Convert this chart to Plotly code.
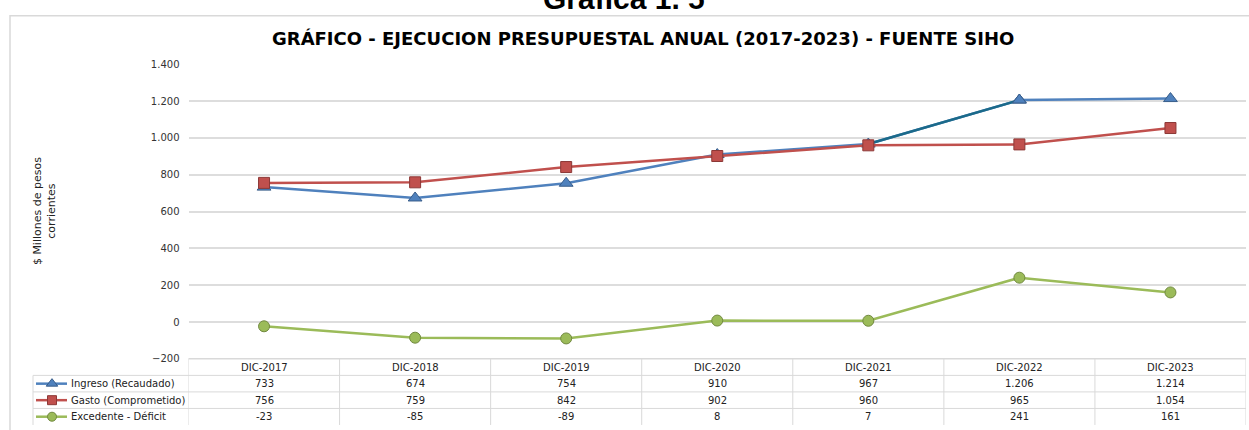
import plotly.graph_objects as go

# ---------------- data ----------------
categories = ["DIC-2017", "DIC-2018", "DIC-2019", "DIC-2020", "DIC-2021", "DIC-2022", "DIC-2023"]
ingreso = [733, 674, 754, 910, 967, 1206, 1214]
gasto = [756, 759, 842, 902, 960, 965, 1054]
excedente = [-23, -85, -89, 8, 7, 241, 161]
series_names = ["Ingreso (Recaudado)", "Gasto (Comprometido)", "Excedente - Déficit"]
y_ticks = [-200, 0, 200, 400, 600, 800, 1000, 1200, 1400]

W, H = 1249, 430
def px_x(p):
    return p / W
def px_y(p):
    return 1 - p / H

def fmt(v):
    return f"{v:,}".replace(",", ".")

FONT = "DejaVu Sans"
BLUE, BLUE_D = "#4F81BD", "#385D8A"
RED, RED_D = "#C0504D", "#8C3836"
GREEN, GREEN_D = "#9BBB59", "#71893F"
TEAL = "#1B6A8A"

series = [
    (series_names[0], ingreso, BLUE, BLUE_D, "triangle-up", 12),
    (series_names[1], gasto, RED, RED_D, "square", 11),
    (series_names[2], excedente, GREEN, GREEN_D, "circle", 11),
]

fig = go.Figure()

# main lines
fig.add_trace(go.Scatter(x=categories, y=ingreso, mode="lines+markers", name=series_names[0],
                         line=dict(color=BLUE, width=2.5),
                         marker=dict(symbol="triangle-up", size=12, color=BLUE, line=dict(color=BLUE_D, width=1)),
                         showlegend=False))
# darker highlighted segment 2021-2022 of Ingreso
fig.add_trace(go.Scatter(x=categories[4:6], y=ingreso[4:6], mode="lines",
                         line=dict(color=TEAL, width=2.5), showlegend=False, hoverinfo="skip"))
fig.add_trace(go.Scatter(x=categories[5:6], y=ingreso[5:6], mode="markers",
                         marker=dict(symbol="triangle-up", size=12, color=BLUE, line=dict(color=BLUE_D, width=1)),
                         showlegend=False, hoverinfo="skip"))
fig.add_trace(go.Scatter(x=categories, y=gasto, mode="lines+markers", name=series_names[1],
                         line=dict(color=RED, width=2.5),
                         marker=dict(symbol="square", size=11, color=RED, line=dict(color=RED_D, width=1)),
                         showlegend=False))
fig.add_trace(go.Scatter(x=categories, y=excedente, mode="lines+markers", name=series_names[2],
                         line=dict(color=GREEN, width=2.5),
                         marker=dict(symbol="circle", size=11, color=GREEN, line=dict(color=GREEN_D, width=1)),
                         showlegend=False))

# ---------------- data table below the plot ----------------
row_centers = [388.5, 405.5, 422.5]
row_lines = [380, 397, 414]
table_top = 363
table_bottom = 431
label_left = 33
plot_left = 188.5
plot_right = 1246

shapes = []
annotations = []

# header labels
for c in categories:
    annotations.append(dict(x=c, y=px_y(371.5), xref="x", yref="paper", text=c, showarrow=False,
                            font=dict(family=FONT, size=10, color="#222222"), xanchor="center", yanchor="middle"))
# values
for r, (name, vals, col, dcol, sym, sz) in enumerate(series):
    for c, v in zip(categories, vals):
        annotations.append(dict(x=c, y=px_y(row_centers[r]), xref="x", yref="paper", text=fmt(v), showarrow=False,
                                font=dict(family=FONT, size=10, color="#222222"), xanchor="center", yanchor="middle"))
    annotations.append(dict(x=px_x(69), y=px_y(row_centers[r]), xref="paper", yref="paper", text=name,
                            showarrow=False, font=dict(family=FONT, size=10, color="#222222"),
                            xanchor="left", yanchor="middle"))
    # legend key (line + marker) in overlay pixel axes
    fig.add_trace(go.Scatter(x=[36, 67], y=[row_centers[r], row_centers[r]], mode="lines",
                             line=dict(color=col, width=2.5), xaxis="x2", yaxis="y2",
                             showlegend=False, hoverinfo="skip"))
    fig.add_trace(go.Scatter(x=[52], y=[row_centers[r]], mode="markers",
                             marker=dict(symbol=sym, size=sz - 2, color=col, line=dict(color=dcol, width=1)),
                             xaxis="x2", yaxis="y2", showlegend=False, hoverinfo="skip"))

LC = "#D9D9D9"
# vertical column borders
for i in range(len(categories) + 1):
    shapes.append(dict(type="line", xref="x", yref="paper", x0=i - 0.5, x1=i - 0.5,
                       y0=px_y(table_top), y1=px_y(table_bottom), line=dict(color=LC, width=1)))
# left border of label column
shapes.append(dict(type="line", xref="paper", yref="paper", x0=px_x(label_left), x1=px_x(label_left),
                   y0=px_y(row_lines[0]), y1=px_y(table_bottom), line=dict(color=LC, width=1)))
# horizontal lines
shapes.append(dict(type="line", xref="paper", yref="paper", x0=px_x(plot_left), x1=px_x(plot_right),
                   y0=px_y(table_top), y1=px_y(table_top), line=dict(color=LC, width=1.5)))
for yl in row_lines:
    shapes.append(dict(type="line", xref="paper", yref="paper", x0=px_x(label_left), x1=px_x(plot_right),
                       y0=px_y(yl), y1=px_y(yl), line=dict(color=LC, width=1)))
# outer chart border
shapes.append(dict(type="rect", xref="paper", yref="paper", x0=px_x(10), x1=px_x(1270),
                   y0=px_y(10), y1=px_y(450), line=dict(color=LC, width=1.5), fillcolor="rgba(0,0,0,0)",
                   layer="below"))

# titles
annotations.append(dict(x=px_x(624), y=px_y(-8), xref="paper", yref="paper", text="<b>Gráfica 1. 5</b>",
                        showarrow=False, font=dict(family="Liberation Sans", size=30, color="#000000"),
                        xanchor="center", yanchor="middle"))
annotations.append(dict(x=px_x(643), y=px_y(33), xref="paper", yref="paper",
                        text="<b>GRÁFICO - EJECUCION PRESUPUESTAL ANUAL (2017-2023) - FUENTE SIHO</b>",
                        showarrow=False, font=dict(family=FONT, size=18, color="#000000"),
                        xanchor="center", yanchor="middle"))
annotations.append(dict(x=px_x(44), y=px_y(211), xref="paper", yref="paper",
                        text="$ Millones de pesos<br>corrientes", textangle=-90,
                        showarrow=False, font=dict(family=FONT, size=11, color="#222222"),
                        xanchor="center", yanchor="middle"))

fig.update_layout(
    width=W, height=H,
    margin=dict(l=0, r=0, t=0, b=0),
    paper_bgcolor="white", plot_bgcolor="rgba(0,0,0,0)",
    separators=",.",
    xaxis=dict(domain=[px_x(plot_left), px_x(plot_right)], range=[-0.5, 6.5], type="category",
               categoryorder="array", categoryarray=categories,
               showticklabels=False, showgrid=False, zeroline=False, showline=False, ticks=""),
    yaxis=dict(domain=[px_y(363), px_y(60)], range=[-200, 1400], tickvals=y_ticks,
               tickformat=",d", showgrid=True, gridcolor="#DDDDDD", gridwidth=1.5,
               zeroline=False, showline=False, ticks="", ticklabelstandoff=8,
               tickfont=dict(family=FONT, size=10, color="#333333")),
    xaxis2=dict(domain=[0, 1], range=[0, W], visible=False, fixedrange=True, anchor="y2"),
    yaxis2=dict(domain=[0, 1], range=[H, 0], visible=False, fixedrange=True, anchor="x2"),
    shapes=shapes,
    annotations=annotations,
)

fig.write_html(
    "out.html",
    config={"displayModeBar": False},
    post_script="document.body.style.margin='0';document.body.style.overflow='hidden';"
                "document.documentElement.style.overflow='hidden';",
)
